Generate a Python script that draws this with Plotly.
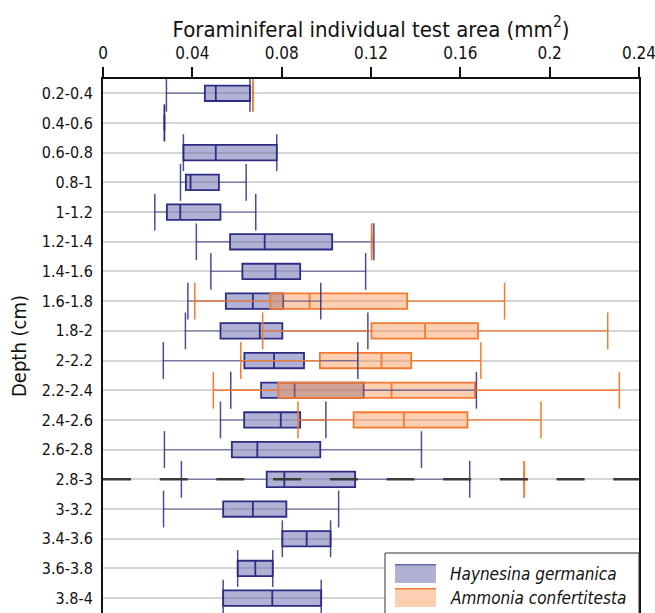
import plotly.graph_objects as go

# ---------------- data ----------------
depths = ["0.2-0.4", "0.4-0.6", "0.6-0.8", "0.8-1", "1-1.2", "1.2-1.4", "1.4-1.6",
          "1.6-1.8", "1.8-2", "2-2.2", "2.2-2.4", "2.4-2.6", "2.6-2.8", "2.8-3",
          "3-3.2", "3.4-3.6", "3.6-3.8", "3.8-4"]

# Haynesina germanica (all depth classes)
hg_min = [0.0284, 0.0275, 0.0360, 0.0347, 0.0232, 0.0418, 0.0483, 0.0380, 0.0369,
          0.0270, 0.0572, 0.0526, 0.0275, 0.0351, 0.0271, 0.0803, 0.0603, 0.0538]
hg_q1 = [0.0456, 0.0275, 0.0360, 0.0371, 0.0286, 0.0569, 0.0624, 0.0550, 0.0526,
         0.0633, 0.0708, 0.0632, 0.0577, 0.0733, 0.0538, 0.0803, 0.0603, 0.0538]
hg_med = [0.0505, 0.0275, 0.0505, 0.0392, 0.0346, 0.0724, 0.0772, 0.0671, 0.0702,
          0.0766, 0.0858, 0.0796, 0.0691, 0.0812, 0.0671, 0.0912, 0.0682, 0.0758]
hg_q3 = [0.0658, 0.0275, 0.0778, 0.0519, 0.0526, 0.1026, 0.0883, 0.0807, 0.0803,
         0.0900, 0.1167, 0.0883, 0.0973, 0.1129, 0.0821, 0.1019, 0.0760, 0.0977]
hg_max = [0.0658, 0.0275, 0.0778, 0.0641, 0.0684, 0.1213, 0.1176, 0.0975, 0.1186,
          0.1141, 0.1672, 0.0998, 0.1426, 0.1642, 0.1055, 0.1019, 0.0760, 0.0977]

# Ammonia confertitesta (only some depth classes)
ac_depths = ["0.2-0.4", "1.2-1.4", "1.6-1.8", "1.8-2", "2-2.2", "2.2-2.4", "2.4-2.6", "2.8-3"]
ac_min = [0.0671, 0.1203, 0.0411, 0.0715, 0.0617, 0.0494, 0.0873, 0.1886]
ac_q1 = [0.0671, 0.1203, 0.0749, 0.1202, 0.0971, 0.0785, 0.1122, 0.1886]
ac_med = [0.0671, 0.1203, 0.0925, 0.1442, 0.1247, 0.1292, 0.1347, 0.1886]
ac_q3 = [0.0671, 0.1203, 0.1362, 0.1679, 0.1380, 0.1666, 0.1632, 0.1886]
ac_max = [0.0671, 0.1203, 0.1798, 0.2260, 0.1692, 0.2312, 0.1961, 0.1886]

x_ticks = [0, 0.04, 0.08, 0.12, 0.16, 0.2, 0.24]
x_tick_text = ["0", "0.04", "0.08", "0.12", "0.16", "0.2", "0.24"]
marked_depth = "2.8-3"

# ---------------- styles ----------------
FONT = "DejaVu Sans Condensed, DejaVu Sans, sans-serif"
HG_LINE = "#2c2c84"
HG_FILL = "rgba(98,100,170,0.5)"
HG_WHISK = "rgba(60,60,140,0.6)"
HG_CAP = "rgba(44,44,132,0.85)"
AC_LINE = "#f47a30"
AC_FILL = "rgba(250,140,70,0.42)"
BOX_W = 0.52
CAP_H = 0.62

hg_pos = list(range(len(depths)))
ac_pos = [depths.index(d) for d in ac_depths]


def whisker_xy(pos, mn, q1, q3, mx):
    xs, ys = [], []
    for p, a, b, c, d in zip(pos, mn, q1, q3, mx):
        xs += [a, b, None, c, d, None]
        ys += [p, p, None, p, p, None]
    return xs, ys


def cap_xy(pos, mn, mx):
    xs, ys = [], []
    for p, a, d in zip(pos, mn, mx):
        for v in (a, d):
            xs += [v, v, None]
            ys += [p - CAP_H, p + CAP_H, None]
    return xs, ys


fig = go.Figure()

for name, pos, mn, q1, med, q3, mx, lc, fc, wc, cc in [
    ("Haynesina germanica", hg_pos, hg_min, hg_q1, hg_med, hg_q3, hg_max,
     HG_LINE, HG_FILL, HG_WHISK, HG_CAP),
    ("Ammonia confertitesta", ac_pos, ac_min, ac_q1, ac_med, ac_q3, ac_max,
     AC_LINE, AC_FILL, AC_LINE, AC_LINE),
]:
    wx, wy = whisker_xy(pos, mn, q1, q3, mx)
    fig.add_trace(go.Scatter(x=wx, y=wy, mode="lines", line=dict(color=wc, width=1.3),
                             hoverinfo="skip", showlegend=False))
    fig.add_trace(go.Box(name=name, orientation="h", y=pos, q1=q1, median=med, q3=q3,
                         lowerfence=q1, upperfence=q3, width=BOX_W, whiskerwidth=0,
                         boxpoints=False, fillcolor=fc, line=dict(color=lc, width=1.8),
                         showlegend=False))
    cx, cy = cap_xy(pos, mn, mx)
    fig.add_trace(go.Scatter(x=cx, y=cy, mode="lines", line=dict(color=cc, width=1.5),
                             hoverinfo="skip", showlegend=False))

# dashed reference line
fig.add_shape(type="line", xref="paper", x0=0, x1=1, yref="y",
              y0=depths.index(marked_depth), y1=depths.index(marked_depth),
              line=dict(color="#3a3a3a", width=2.5, dash="28px,28.7px"), layer="above")

# manual legend (box with swatches)
def px_x(p):
    return (p - 103) / 536.0


def px_y(p):
    return (613 - p) / 534.0


fig.add_shape(type="rect", xref="paper", yref="paper", x0=px_x(385), x1=px_x(639),
              y0=px_y(640), y1=px_y(553), fillcolor="white",
              line=dict(color="#333333", width=1), layer="above")
legend_items = [("Haynesina germanica", HG_FILL, "#6a6aa8", 564),
                ("Ammonia confertitesta", AC_FILL, AC_LINE, 588)]
for label, fc, lc, top in legend_items:
    fig.add_shape(type="rect", xref="paper", yref="paper", x0=px_x(395), x1=px_x(436),
                  y0=px_y(top + 19), y1=px_y(top), fillcolor=fc, line=dict(width=0),
                  layer="above")
    fig.add_shape(type="line", xref="paper", yref="paper", x0=px_x(395), x1=px_x(436),
                  y0=px_y(top + 0.8), y1=px_y(top + 0.8), line=dict(color=lc, width=1.6),
                  layer="above")
    fig.add_annotation(xref="paper", yref="paper", x=px_x(448), y=px_y(top + 10),
                       xanchor="left", yanchor="middle", showarrow=False,
                       text="<i>" + label + "</i>",
                       font=dict(family=FONT, size=17, color="#111111"))

fig.update_layout(
    width=655, height=613,
    margin=dict(l=103, r=16, t=79, b=0, autoexpand=False),
    paper_bgcolor="white", plot_bgcolor="white",
    font=dict(family=FONT, color="#111111"),
    showlegend=False,
    xaxis=dict(
        side="top", range=[0, 0.24], tickvals=x_ticks, ticktext=x_tick_text,
        ticks="outside", ticklen=10, tickwidth=1.5, tickcolor="#111111",
        ticklabeloverflow="allow", ticklabelstandoff=1,
        showline=True, linecolor="#111111", linewidth=2, mirror=False,
        showgrid=False, zeroline=False,
        tickfont=dict(family=FONT, size=17, color="#111111"),
        title=dict(text="Foraminiferal individual test area (mm<sup>2</sup>)",
                   font=dict(family=FONT, size=22, color="#111111"), standoff=0),
    ),
    yaxis=dict(
        range=[17.5, -0.48], tickvals=hg_pos, ticktext=depths,
        ticks="", showline=True, linecolor="#111111", linewidth=2, mirror=True,
        showgrid=True, gridcolor="#d4d4d4", gridwidth=1.5, zeroline=False,
        ticklabelstandoff=5,
        tickfont=dict(family=FONT, size=16, color="#111111"),
        title=dict(text="Depth (cm)", font=dict(family=FONT, size=20, color="#111111"),
                   standoff=10),
    ),
)

fig.write_html("out.html", config={"displayModeBar": False},
               post_script="document.body.style.margin='0px';")
